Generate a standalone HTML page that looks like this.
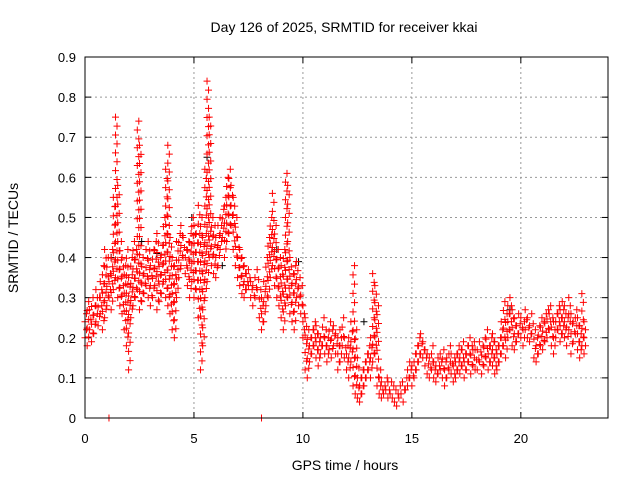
<!DOCTYPE html>
<html><head><meta charset="utf-8"><style>
body{margin:0;background:#fff}
svg{display:block;font-family:"Liberation Sans",sans-serif}
</style></head><body>
<svg id="c" width="640" height="480">
<text x="344" y="32" text-anchor="middle" font-size="14">Day 126 of 2025, SRMTID for receiver kkai</text>
<text x="345" y="470" text-anchor="middle" font-size="14">GPS time / hours</text>
<text transform="translate(18,238) rotate(-90)" text-anchor="middle" font-size="14">SRMTID / TECUs</text>
<g id="grid"></g><g id="ticks"></g><g id="pts"></g>
<rect x="85" y="57" width="523" height="361" fill="none" stroke="#000"/>
</svg>
<script>
const xTicks=[0,5,10,15,20];
const yTicks=[0,0.1,0.2,0.3,0.4,0.5,0.6,0.7,0.8,0.9];
const step=0.1;
const loVals=[.20,.18,.22,.19,.21,.24,.23,.26,.22,.25,
.28,.30,.27,.32,.35,.30,.28,.26,.22,.18,
.12,.25,.28,.30,.32,.27,.29,.31,.33,.30,
.28,.30,.33,.27,.29,.31,.34,.30,.28,.26,
.22,.20,.30,.35,.38,.40,.36,.33,.30,.34,
.30,.32,.25,.12,.18,.30,.34,.40,.38,.36,
.35,.38,.42,.45,.40,.44,.46,.48,.42,.38,
.35,.33,.31,.30,.32,.33,.30,.28,.30,.32,
.25,.22,.24,.28,.30,.35,.38,.33,.30,.28,
.25,.22,.28,.30,.26,.24,.22,.30,.28,.26,
.20,.12,.10,.14,.16,.18,.15,.13,.16,.18,
.16,.14,.17,.15,.18,.16,.12,.14,.18,.15,
.12,.10,.14,.08,.06,.05,.04,.06,.08,.10,
.12,.10,.14,.16,.08,.06,.05,.06,.07,.05,
.06,.05,.04,.03,.05,.06,.04,.07,.08,.10,
.08,.10,.12,.14,.16,.15,.13,.11,.10,.12,
.10,.09,.11,.12,.10,.08,.10,.12,.11,.09,
.10,.12,.11,.13,.10,.12,.14,.11,.13,.12,
.12,.14,.11,.13,.15,.12,.14,.13,.11,.12,
.14,.16,.18,.15,.20,.22,.18,.17,.19,.21,
.20,.18,.22,.20,.19,.21,.15,.14,.16,.18,
.17,.19,.20,.22,.18,.16,.20,.22,.19,.21,
.20,.18,.22,.16,.19,.21,.17,.15,.18,.16];
const hiVals=[.26,.29,.27,.30,.28,.32,.30,.34,.38,.42,
.40,.36,.42,.55,.75,.58,.44,.40,.38,.42,
.35,.40,.44,.42,.74,.68,.40,.36,.42,.44,
.38,.42,.44,.46,.40,.43,.50,.62,.68,.45,
.40,.38,.44,.46,.48,.45,.42,.44,.46,.50,
.48,.46,.53,.50,.45,.62,.84,.75,.50,.48,
.45,.48,.50,.52,.55,.60,.62,.58,.55,.50,
.45,.42,.40,.38,.36,.37,.34,.33,.35,.37,
.32,.30,.34,.40,.45,.50,.56,.48,.42,.40,
.38,.42,.61,.58,.40,.36,.38,.39,.35,.33,
.28,.25,.22,.20,.22,.24,.23,.21,.20,.25,
.22,.20,.24,.22,.23,.21,.20,.22,.25,.20,
.18,.20,.24,.38,.22,.15,.10,.12,.14,.16,
.18,.20,.36,.33,.28,.12,.09,.08,.10,.09,
.09,.08,.07,.06,.08,.09,.07,.10,.12,.14,
.13,.16,.18,.20,.21,.19,.17,.16,.15,.18,
.14,.13,.15,.16,.17,.14,.15,.18,.16,.15,
.16,.18,.17,.19,.16,.18,.20,.18,.19,.17,
.17,.19,.18,.20,.22,.18,.20,.21,.19,.18,
.20,.24,.29,.26,.28,.30,.27,.25,.23,.26,
.25,.24,.27,.25,.23,.26,.22,.20,.23,.25,
.24,.26,.27,.28,.25,.24,.26,.28,.27,.29,
.28,.25,.30,.26,.24,.27,.25,.23,.31,.24];
const blackT=[1.2,2.6,3.3,4.9,5.6,6.3,8.8,9.8,12.8,19.5];
const blackV=[0.40,0.44,0.41,0.50,0.65,0.38,0.42,0.39,0.24,0.27];
const redZeroT=[1.1,8.1];
const X=t=>85+t*(523/24);
const Y=v=>418-v*(361/0.9);
const NS="http://www.w3.org/2000/svg";
const grid=document.getElementById('grid'),ticks=document.getElementById('ticks'),pts=document.getElementById('pts');
function mk(tag,attrs,parent){const e=document.createElementNS(NS,tag);for(const k in attrs)e.setAttribute(k,attrs[k]);parent.appendChild(e);return e;}
yTicks.forEach(v=>{
 if(v>0&&v<0.9){const g=mk('line',{x1:85,x2:608,y1:Y(v),y2:Y(v),stroke:'#999','stroke-dasharray':'2,3'},grid);
 
 }
 mk('line',{x1:85,x2:91,y1:Y(v),y2:Y(v),stroke:'#000'},ticks);
 mk('line',{x1:602,x2:608,y1:Y(v),y2:Y(v),stroke:'#000'},ticks);
 const t=mk('text',{x:76,y:Y(v)+5,'text-anchor':'end','font-size':13},ticks);t.textContent=v===0?'0':v.toFixed(1);
 
 
});
xTicks.forEach(h=>{
 if(h>0){const g=mk('line',{x1:X(h),x2:X(h),y1:57,y2:418,stroke:'#999','stroke-dasharray':'2,3'},grid);
 
 }
 mk('line',{x1:X(h),x2:X(h),y1:412,y2:418,stroke:'#000'},ticks);
 mk('line',{x1:X(h),x2:X(h),y1:57,y2:63,stroke:'#000'},ticks);
 const t=mk('text',{x:X(h),y:443,'text-anchor':'middle','font-size':13},ticks);t.textContent=h;
 
 
});
function plus(x,y,col,name){
 const p=mk('path',{d:`M${x-3.5},${y}h7M${x},${y-3.5}v7`,stroke:col,'stroke-width':1},pts);
 
 
}
blackT.forEach((t,i)=>plus(X(t),Y(blackV[i]),'#000','black-point'));
loVals.forEach((lo,i)=>{
 const hi=hiVals[i];
 const x=X(i*step);
 const y0=Y(lo),y1=Y(hi);
 const n=Math.max(1,Math.round((y0-y1)/9));
 for(let k=0;k<=n;k++){plus(x+(k%2?1.5:0),y0+(y1-y0)*k/n,'#f00','srmtid-point');}
});
redZeroT.forEach(t=>plus(X(t),Y(0),'#f00','srmtid-point'));
</script>
</body></html>
